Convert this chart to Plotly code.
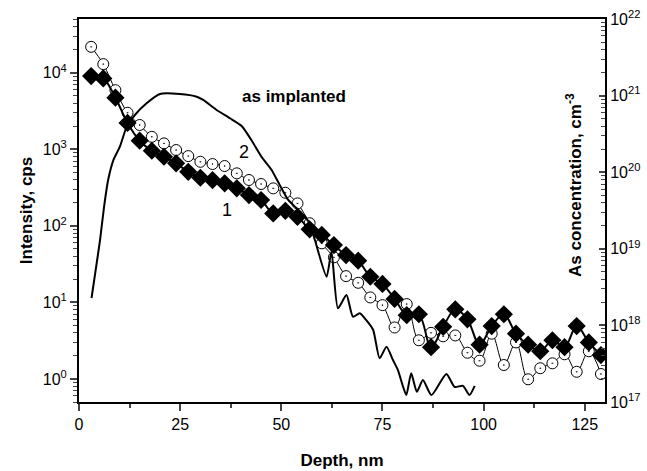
import plotly.graph_objects as go

# Series 1 (filled diamonds), intensity, cps
depth1 = [3, 6, 9, 12, 15, 18, 21, 24, 27, 30, 33, 36, 39, 42, 45, 48, 51, 54, 57, 60, 63,
          66, 69, 72, 75, 78, 81, 84, 87, 90, 93, 96, 99, 102, 105, 108, 111, 114, 117, 120, 123, 126, 129]
int1 = [9000, 8400, 4700, 2200, 1290, 955, 797, 653, 507, 424, 395, 358, 308, 252, 217, 145, 157, 131, 90, 76, 56,
        41.5, 35, 21.6, 17.4, 11.1, 6.8, 7.0, 2.6, 4.8, 8.1, 6.0, 2.8, 4.9, 7.0, 3.9, 2.8, 2.3, 3.2, 2.6, 4.9, 3.0, 2.05]

# Series 2 (open circles), intensity, cps
depth2 = depth1
int2 = [21700, 12900, 5900, 2990, 2070, 1450, 1190, 975, 813, 685, 640, 603, 484, 396, 351, 308, 270, 196,
        108, 59, 38.7, 22, 18, 11.6, 9.2, 4.7, 9.5, 3.2, 4.0, 3.6, 3.7, 2.2, 1.73, 3.9, 1.52, 3.0, 0.99,
        1.38, 1.6, 2.1, 1.24, 2.3, 1.16]

# As implanted profile, As concentration, cm^-3
depth_imp = [3.1, 4.0, 5.2, 6.2, 7.2, 8.5, 10.1, 11.8, 13.8, 16.7, 20.0, 24.9, 29.1, 30.7, 34.0, 37.3, 40.2,
             42.6, 45.1, 47.6, 49.6, 51.7, 53.8, 55.8, 57.0, 58.3, 61.2, 62.4, 64.0, 66.1, 67.7, 69.4, 71.0,
             72.7, 74.3, 76.0, 77.6, 78.8, 80.1, 80.9, 82.1, 83.5, 85.0, 87.1, 90.8, 92.8, 94.9, 96.5, 97.8]
conc_imp = [2.28e18, 4.79e18, 1.30e19, 3.55e19, 7.91e19, 1.44e20, 2.15e20, 3.93e20, 5.58e20, 7.93e20, 1.05e21,
            1.05e21, 9.68e20, 8.77e20, 6.49e20, 5.06e20, 4.01e20, 2.63e20, 1.59e20, 1.07e20, 6.81e19, 4.34e19,
            3.38e19, 2.62e19, 2.15e19, 1.30e19, 4.33e18, 9.16e18, 1.67e18, 2.49e18, 1.30e18, 1.44e18, 1.17e18,
            8.71e17, 3.72e17, 5.27e17, 3.53e17, 2.62e17, 1.58e17, 1.23e17, 2.37e17, 1.36e17, 1.94e17, 1.23e17,
            2.32e17, 1.58e17, 1.62e17, 1.23e17, 1.62e17]

x_ticks = [0, 25, 50, 75, 100, 125]
left_ticks = [1, 10, 100, 1000, 10000]
left_labels = ["10<sup>0</sup>", "10<sup>1</sup>", "10<sup>2</sup>", "10<sup>3</sup>", "10<sup>4</sup>"]
right_ticks = [1e17, 1e18, 1e19, 1e20, 1e21, 1e22]
right_labels = ["10<sup>17</sup>", "10<sup>18</sup>", "10<sup>19</sup>", "10<sup>20</sup>",
                "10<sup>21</sup>", "10<sup>22</sup>"]

FONT = "Arial, Liberation Sans, sans-serif"

fig = go.Figure()

fig.add_trace(go.Scatter(
    x=depth_imp, y=conc_imp, yaxis="y2", mode="lines",
    line=dict(color="black", width=2, shape="spline", smoothing=0.6),
    showlegend=False, hoverinfo="skip"))

fig.add_trace(go.Scatter(
    x=depth2, y=int2, mode="lines+markers",
    line=dict(color="black", width=1, shape="spline", smoothing=1.0),
    marker=dict(symbol="circle-dot", size=11, color="white",
                line=dict(color="black", width=1)),
    showlegend=False, hoverinfo="skip"))

fig.add_trace(go.Scatter(
    x=depth1, y=int1, mode="lines+markers",
    line=dict(color="black", width=2, shape="spline", smoothing=1.0),
    marker=dict(symbol="diamond", size=14, color="black",
                line=dict(color="black", width=0)),
    showlegend=False, hoverinfo="skip"))

fig.update_layout(
    width=647, height=471,
    margin=dict(l=79, r=42, t=19, b=69),
    paper_bgcolor="white", plot_bgcolor="white",
    font=dict(family=FONT, size=16, color="black"),
    xaxis=dict(
        range=[0, 130], tickvals=x_ticks, ticks="outside", ticklen=7, tickwidth=2,
        showline=True, linewidth=2, linecolor="black", mirror=True,
        showgrid=False, zeroline=False, automargin=False,
        minor=dict(ticks="outside", ticklen=4, tickwidth=1.5, dtick=12.5, showgrid=False),
        title=dict(text="<b>Depth, nm</b>", font=dict(size=17), standoff=22),
        tickfont=dict(size=16),
    ),
    yaxis=dict(
        type="log", range=[-0.301, 4.70], tickvals=left_ticks, ticktext=left_labels,
        ticks="outside", ticklen=7, tickwidth=2,
        showline=True, linewidth=2, linecolor="black", mirror=True,
        showgrid=False, zeroline=False, automargin=False,
        minor=dict(ticks="outside", ticklen=4, tickwidth=1, dtick="D1", showgrid=False),
        title=dict(text="<b>Intensity, cps</b>", font=dict(size=17), standoff=6),
        tickfont=dict(size=16),
    ),
    yaxis2=dict(
        type="log", range=[17, 22], overlaying="y", side="right",
        tickvals=right_ticks, ticktext=right_labels,
        ticks="inside", ticklen=6, tickwidth=2,
        showline=True, linewidth=2, linecolor="black",
        showgrid=False, zeroline=False, automargin=False,
        minor=dict(ticks="inside", ticklen=4, tickwidth=1, dtick="D1", showgrid=False),
        tickfont=dict(size=16),
    ),
    annotations=[
        dict(text="<b>as implanted</b>", xref="paper", yref="paper", x=0.409, y=0.828,
             showarrow=False, font=dict(size=17)),
        dict(text="2", xref="paper", yref="paper", x=0.30, y=0.653,
             showarrow=False, font=dict(size=18)),
        dict(text="1", xref="paper", yref="paper", x=0.268, y=0.501,
             showarrow=False, font=dict(size=18)),
        dict(text="<b>As concentration, cm<sup>-3</sup></b>", xref="paper", yref="paper",
             x=0.966, y=0.567, textangle=-90, showarrow=False, font=dict(size=17)),
    ],
)

fig.write_html("out.html", config={"displayModeBar": False},
               post_script="document.body.style.margin='0px';")
